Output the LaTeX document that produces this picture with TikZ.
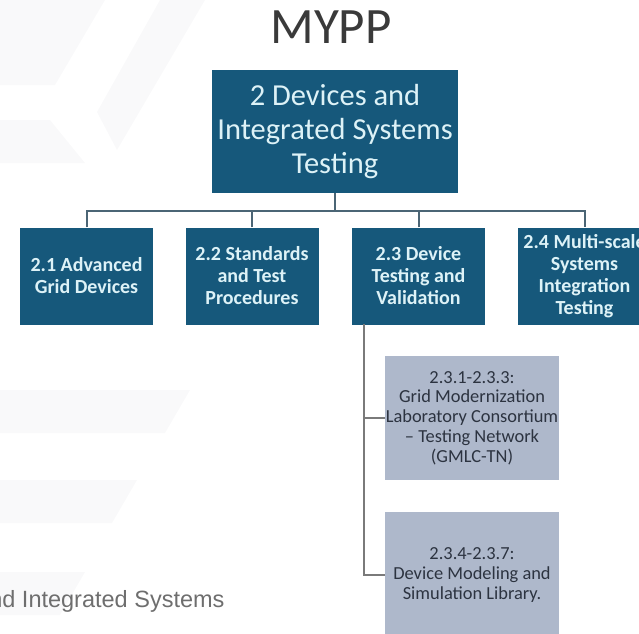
\documentclass[tikz,border=0pt]{standalone}
\usepackage{fontspec}
\setmainfont{Carlito}
\newfontfamily\footfont{Liberation Sans}
\definecolor{boxblue}{HTML}{16587B}
\definecolor{boxtext}{HTML}{DDF2F7}
\definecolor{linkblue}{HTML}{4B6575}
\definecolor{taskgray}{HTML}{AEB8CB}
\definecolor{tasktext}{HTML}{2C3340}
\definecolor{sublinkgray}{HTML}{7A7A7A}
\definecolor{titlegray}{HTML}{3A3A3A}
\definecolor{footgray}{HTML}{6E6E6E}
\definecolor{wmark}{HTML}{F9F9FA}
\tikzset{
  topbox/.style={fill=boxblue,text=boxtext,minimum width=246pt,minimum height=123pt,inner sep=0pt,align=center,font=\fontsize{30.5}{34}\selectfont},
  areabox/.style={fill=boxblue,text=boxtext,minimum width=133pt,minimum height=97pt,inner sep=0pt,align=center,font=\bfseries\fontsize{20}{22}\selectfont},
  taskbox/.style={fill=taskgray,text=tasktext,minimum width=174pt,inner sep=0pt,align=center,font=\fontsize{18.4}{19.8}\selectfont},
  link/.style={draw=linkblue,line width=2pt},
  sublink/.style={draw=sublinkgray,line width=2pt}
}
\begin{document}
\begin{tikzpicture}[x=1pt,y=-1pt]
\useasboundingbox (0,0) rectangle (639,633);
\clip (0,0) rectangle (639,633);
\fill[wmark] (0,0) -- (105,0) -- (55,85) -- (0,85) -- cycle;
\fill[wmark] (160,0) -- (205,0) -- (117,150) -- (97,112) -- cycle;
\fill[wmark] (0,120) -- (50,120) -- (85,163) -- (0,163) -- cycle;
\fill[wmark] (0,390) -- (190,390) -- (165,433) -- (0,433) -- cycle;
\fill[wmark] (0,480) -- (137,480) -- (112,523) -- (0,523) -- cycle;
\fill[wmark] (0,572) -- (85,572) -- (60,615) -- (0,615) -- cycle;
\node[anchor=base,text=titlegray,font=\fontsize{51}{54}\selectfont] (title) at (331,43) {MYPP};
\node[topbox] (devices) at (335,131.5) {2 Devices and\\Integrated Systems\\Testing};
\node[areabox] (advgrid) at (86.5,276) {2.1 Advanced\\Grid Devices};
\node[areabox] (standards) at (252,276) {2.2 Standards\\and Test\\Procedures};
\node[areabox] (devtest) at (418.5,276) {2.3 Device\\Testing and\\Validation};
\node[areabox] (multiscale) at (584.5,276) {2.4 Multi-scale\\Systems\\Integration\\Testing};
\node[taskbox,minimum height=124pt] (gmlc) at (472,418) {2.3.1-2.3.3:\\Grid Modernization\\Laboratory Consortium\\-- Testing Network\\(GMLC-TN)};
\node[taskbox,minimum height=126pt] (library) at (472,575) {2.3.4-2.3.7:\\Device Modeling and\\Simulation Library.};
\node[anchor=base east,text=footgray,font=\footfont\fontsize{23.5}{26}\selectfont] (footer) at (228,607) {nd Integrated Systems};
\coordinate (bus) at (335,211);
\coordinate (trunk) at (364,324);
\draw[link] (devices.south) -- (bus);
\draw[link] (advgrid.north) -- (advgrid.north |- bus) -- (multiscale.north |- bus) -- (multiscale.north);
\draw[link] (standards.north) -- (standards.north |- bus);
\draw[link] (devtest.north) -- (devtest.north |- bus);
\draw[sublink] (trunk) |- (library.west);
\draw[sublink] (gmlc.west -| trunk) -- (gmlc.west);
\end{tikzpicture}
\end{document}
